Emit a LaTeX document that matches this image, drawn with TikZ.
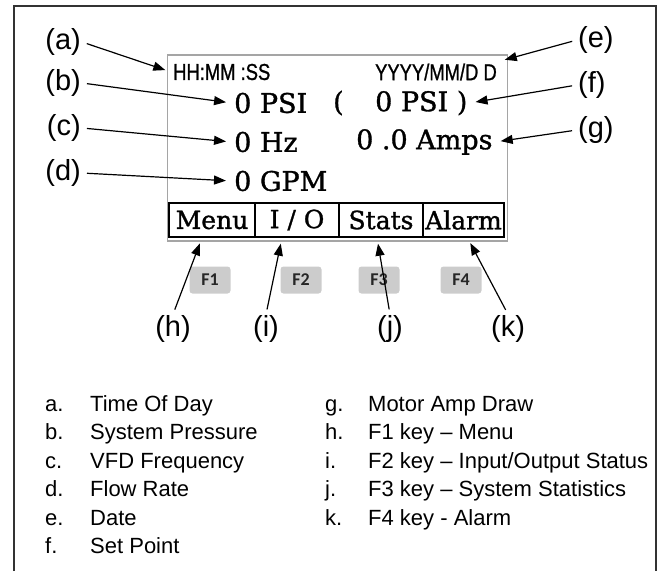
\documentclass[tikz,border=0pt]{standalone}
\usepackage{fontspec}
\setmainfont{Liberation Sans}
\newfontfamily\lcdserif[FakeBold=1.2]{DejaVu Serif}
\newfontfamily\lcdsans[FakeStretch=0.8, FakeBold=1]{Liberation Sans}
\newfontfamily\keyfont{Carlito}
\usetikzlibrary{arrows.meta, positioning, calc}
\definecolor{keygray}{RGB}{204,204,204}
\definecolor{lcdgray}{RGB}{165,165,165}

\begin{document}
\begin{tikzpicture}[
    x=1pt, y=-1pt,
    frame/.style={line width=2pt, draw=black!80},
    lcdbox/.style={draw=lcdgray, line width=1.2pt, minimum width=340pt, minimum height=186pt, inner sep=0pt},
    lcdtext/.style={font=\lcdserif\fontsize{27}{27}\selectfont, inner sep=2pt, anchor=west},
    lcdsmall/.style={font=\lcdsans\fontsize{23}{23}\selectfont, inner sep=2pt},
    softkey/.style={draw, line width=1.6pt, minimum height=34pt, inner sep=0pt, font=\lcdserif\fontsize{25}{25}\selectfont},
    fkey/.style={fill=keygray, rounded corners=3pt, minimum width=41pt, minimum height=27pt, inner sep=0pt, font=\keyfont\bfseries\fontsize{18}{18}\selectfont, text=black!85},
    tag/.style={font=\fontsize{29}{29}\selectfont, inner sep=1pt},
    callout/.style={-{Triangle[length=12pt,width=9pt]}, line width=1.2pt, shorten <=5pt, shorten >=6pt},
    legend/.style={font=\fontsize{22}{28.5}\selectfont, anchor=north west, inner sep=0pt}
  ]

    \useasboundingbox (0,0) rectangle (662,571);

    % outer frame, open at the bottom
    \draw[frame] (14,571) -- (14,6) -- (656,6) -- (656,571);

    % LCD panel
    \node[lcdbox] (lcd) at (337.5,148) {};
    \node[lcdsmall, anchor=west] (clock) at (171,72) {HH:MM :SS};
    \node[lcdsmall, anchor=east] (date) at (499,72) {YYYY/MM/D D};
    \node[lcdtext] (press) at (232,103) {0 PSI};
    \node[lcdtext] (paren) at (331,103) {(};
    \node[lcdtext] (setpt) at (373,103) {0 PSI )};
    \node[lcdtext] (freq) at (232,142) {0 Hz};
    \node[lcdtext] (amps) at (354,142) {0 .0 Amps};
    \node[lcdtext] (flow) at (232,181) {0 GPM};

    % soft keys
    \node[softkey, minimum width=86pt] (kmenu) at (212,220) {Menu};
    \node[softkey, minimum width=84pt] (kio) at (297,220) {I / O};
    \node[softkey, minimum width=84pt] (kstats) at (381,220) {Stats};
    \node[softkey, minimum width=81pt] (kalarm) at (463.5,220) {Alarm};

    % function keys
    \node[fkey] (f1) at (210,280) {F1};
    \node[fkey] (f2) at (301,280) {F2};
    \node[fkey] (f3) at (379,280) {F3};
    \node[fkey] (f4) at (461,280) {F4};

    % labels left and right
    \node[tag, anchor=east] (ta) at (82,42) {(a)};
    \node[tag, anchor=east] (tb) at (82,83) {(b)};
    \node[tag, anchor=east] (tc) at (82,128) {(c)};
    \node[tag, anchor=east] (td) at (82,173) {(d)};
    \node[tag, anchor=west] (te) at (577,40) {(e)};
    \node[tag, anchor=west] (tf) at (577,85) {(f)};
    \node[tag, anchor=west] (tg) at (577,130) {(g)};

    % labels below
    \node[tag] (th) at (173,329) {(h)};
    \node[tag] (ti) at (266,329) {(i)};
    \node[tag] (tj) at (390,329) {(j)};
    \node[tag] (tk) at (508,329) {(k)};

    % callouts
    \draw[callout] (ta.east) -- (clock.west);
    \draw[callout] (tb.east) -- (press.west);
    \draw[callout] (tc.east) -- (freq.west);
    \draw[callout] (td.east) -- (flow.west);
    \draw[callout] (te.west) -- (date.north east);
    \draw[callout] (tf.west) -- (setpt.east);
    \draw[callout] (tg.west) -- (amps.east);
    \draw[callout] (th.north) -- ([xshift=-10pt]kmenu.south);
    \draw[callout] (ti.north) -- ([xshift=-15pt]kio.south);
    \draw[callout] (tj.north) -- ([xshift=-4pt]kstats.south);
    \draw[callout] (tk.north) -- ([xshift=4pt]kalarm.south);

    % --- legend ---
    \node[legend] (legleft) at (45,391) {%
      \begin{tabular}{@{}p{45pt}@{}l@{}}
        a. & Time Of Day \\
        b. & System Pressure \\
        c. & VFD Frequency \\
        d. & Flow Rate \\
        e. & Date \\
        f. & Set Point \\
      \end{tabular}};
    \node[legend] (legright) at (325,391) {%
      \begin{tabular}{@{}p{43pt}@{}l@{}}
        g. & Motor Amp Draw \\
        h. & F1 key – Menu \\
        i. & F2 key – Input/Output Status \\
        j. & F3 key – System Statistics \\
        k. & F4 key - Alarm \\
      \end{tabular}};

  \end{tikzpicture}
\end{document}
